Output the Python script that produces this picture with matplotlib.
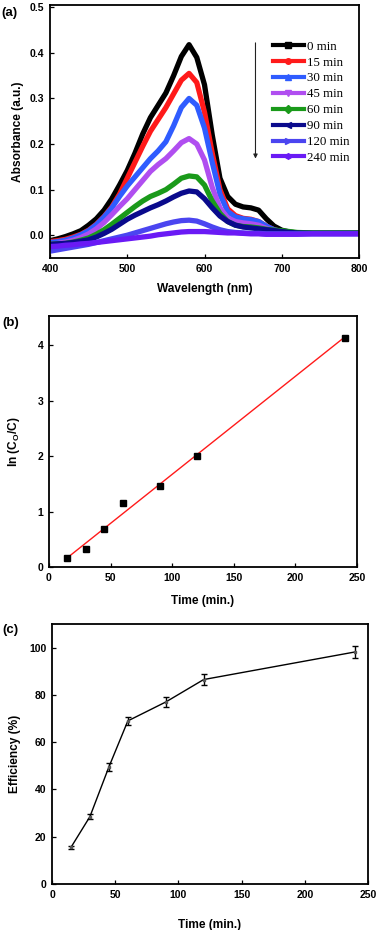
import numpy as np
import matplotlib
matplotlib.use('Agg')
import matplotlib.pyplot as plt
from matplotlib.lines import Line2D

plt.rcParams['font.family'] = 'Liberation Sans'
plt.rcParams['font.weight'] = 'bold'
plt.rcParams['axes.labelweight'] = 'bold'
plt.rcParams['mathtext.fontset'] = 'custom'
plt.rcParams['mathtext.rm'] = 'Liberation Sans:bold'
plt.rcParams['mathtext.bf'] = 'Liberation Sans:bold'

# ---- panel (a): UV-vis spectra ----
wavelength = [400, 410, 420, 430, 440, 450, 460, 470, 480, 490, 500, 510, 520, 530,
              540, 550, 560, 570, 580, 590, 600, 610, 620, 630, 640, 650, 660, 670,
              680, 690, 700, 710, 720, 740, 760, 780, 800]

abs_0 = [-0.012, -0.008, -0.003, 0.003, 0.010, 0.022, 0.036, 0.055, 0.080, 0.110, 0.142,
         0.180, 0.222, 0.258, 0.285, 0.312, 0.350, 0.392, 0.418, 0.390, 0.330, 0.220,
         0.125, 0.085, 0.068, 0.062, 0.060, 0.055, 0.036, 0.020, 0.011, 0.007, 0.005,
         0.005, 0.005, 0.005, 0.005]
abs_15 = [-0.014, -0.012, -0.009, -0.004, 0.002, 0.011, 0.024, 0.041, 0.062, 0.090, 0.125,
          0.160, 0.195, 0.228, 0.254, 0.280, 0.310, 0.340, 0.355, 0.335, 0.270, 0.180,
          0.100, 0.058, 0.043, 0.037, 0.035, 0.030, 0.020, 0.012, 0.008, 0.006, 0.005,
          0.005, 0.005, 0.005, 0.005]
abs_30 = [-0.016, -0.014, -0.011, -0.006, 0.001, 0.010, 0.023, 0.040, 0.060, 0.085, 0.108,
          0.128, 0.148, 0.168, 0.185, 0.205, 0.240, 0.280, 0.300, 0.285, 0.235, 0.160,
          0.090, 0.052, 0.040, 0.036, 0.034, 0.030, 0.020, 0.012, 0.008, 0.006, 0.005,
          0.005, 0.005, 0.005, 0.005]
abs_45 = [-0.020, -0.018, -0.015, -0.011, -0.005, 0.003, 0.014, 0.028, 0.045, 0.063, 0.080,
          0.100, 0.120, 0.140, 0.155, 0.168, 0.185, 0.203, 0.212, 0.200, 0.165, 0.105,
          0.060, 0.038, 0.030, 0.027, 0.025, 0.022, 0.015, 0.010, 0.007, 0.005, 0.004,
          0.004, 0.004, 0.004, 0.004]
abs_60 = [-0.020, -0.019, -0.018, -0.015, -0.011, -0.006, 0.002, 0.012, 0.024, 0.037, 0.050,
          0.063, 0.075, 0.085, 0.092, 0.100, 0.112, 0.125, 0.130, 0.128, 0.110, 0.075,
          0.048, 0.030, 0.022, 0.019, 0.018, 0.016, 0.013, 0.011, 0.010, 0.008, 0.006,
          0.005, 0.005, 0.005, 0.005]
abs_90 = [-0.020, -0.019, -0.018, -0.016, -0.013, -0.010, -0.004, 0.004, 0.013, 0.024, 0.035,
          0.044, 0.052, 0.060, 0.067, 0.075, 0.084, 0.092, 0.097, 0.095, 0.080, 0.060,
          0.042, 0.030, 0.022, 0.018, 0.016, 0.014, 0.012, 0.010, 0.008, 0.006, 0.005,
          0.004, 0.004, 0.004, 0.004]
abs_120 = [-0.035, -0.032, -0.029, -0.026, -0.023, -0.020, -0.016, -0.012, -0.008, -0.004, 0.000,
           0.005, 0.010, 0.015, 0.020, 0.025, 0.029, 0.032, 0.033, 0.031, 0.025, 0.018,
           0.012, 0.008, 0.006, 0.005, 0.004, 0.004, 0.003, 0.003, 0.003, 0.003, 0.003,
           0.003, 0.003, 0.003, 0.003]
abs_240 = [-0.025, -0.024, -0.022, -0.021, -0.019, -0.018, -0.016, -0.014, -0.012, -0.010, -0.008,
           -0.006, -0.004, -0.002, 0.001, 0.003, 0.005, 0.007, 0.008, 0.008, 0.008, 0.007,
           0.006, 0.005, 0.005, 0.004, 0.003, 0.003, 0.002, 0.002, 0.002, 0.002, 0.002,
           0.003, 0.003, 0.003, 0.003]

spectra = [abs_0, abs_15, abs_30, abs_45, abs_60, abs_90, abs_120, abs_240]
spectra_labels = ['0 min', '15 min', '30 min', '45 min', '60 min', '90 min', '120 min', '240 min']
spectra_colors = ['#000000', '#ff1a1a', '#2f5cff', '#b04ef0', '#1a9a1a', '#0a0a8c', '#4b45f0', '#6a1af5']
spectra_markers = ['s', 'o', '^', 'v', 'D', '<', '>', 'h']

# ---- panel (b): kinetics ----
time_b = [15, 30, 45, 60, 90, 120, 240]
ln_c0_c = [0.16, 0.33, 0.68, 1.16, 1.46, 2.01, 4.14]

# ---- panel (c): efficiency ----
time_c = [15, 30, 45, 60, 90, 120, 240]
efficiency = [15.5, 28.5, 49.5, 69.0, 77.0, 86.5, 98.2]
eff_err = [0.5, 1.0, 1.5, 1.6, 2.0, 2.2, 2.5]

W, H = 378, 930
fig = plt.figure(figsize=(W / 100, H / 100), dpi=100)


def axes_px(left, top, right, bottom):
    return fig.add_axes([left / W, 1 - bottom / H, (right - left) / W, (bottom - top) / H])


def style(ax):
    for sp in ax.spines.values():
        sp.set_linewidth(1.3)
    ax.tick_params(direction='in', length=3, width=0.9, labelsize=7.5, pad=4)
    for lab in ax.get_xticklabels() + ax.get_yticklabels():
        lab.set_fontweight('bold')


# panel (a)
ax1 = axes_px(50, 5, 359, 258)
for y, lab, c in zip(spectra, spectra_labels, spectra_colors):
    ax1.plot(wavelength, y, color=c, lw=3.8, solid_joinstyle='round', label=lab)
ax1.set_xlim(400, 800)
ax1.set_ylim(-0.05, 0.505)
ax1.set_xticks([400, 500, 600, 700, 800])
ax1.set_yticks([0.0, 0.1, 0.2, 0.3, 0.4, 0.5])
ax1.yaxis.set_major_formatter(matplotlib.ticker.FormatStrFormatter('%.1f'))
ax1.set_xlabel('Wavelength (nm)', fontsize=8.6, labelpad=7)
ax1.set_ylabel('Absorbance (a.u.)', fontsize=8.6, labelpad=4)
style(ax1)
handles = [Line2D([], [], color=c, lw=3, marker=m, markersize=4, markeredgecolor=c)
           for c, m in zip(spectra_colors, spectra_markers)]
ax1.legend(handles, spectra_labels, loc='upper left', bbox_to_anchor=(0.700, 0.885),
           frameon=False, borderpad=0, handlelength=2.4, handletextpad=0.25,
           labelspacing=0.3, prop={'family': 'Liberation Serif', 'size': 9.3, 'weight': 'normal'})
ax1.annotate('', xy=(666, 0.162), xytext=(666, 0.428),
             arrowprops=dict(arrowstyle='-|>', color='#222222', lw=0.8, mutation_scale=6))

# panel (b)
ax2 = axes_px(49, 316, 357, 567)
fit = np.polyfit(time_b, ln_c0_c, 1)
fit_x = np.array([time_b[0], time_b[-1]])
ax2.plot(fit_x, np.polyval(fit, fit_x), color='#ff1a1a', lw=1.0)
ax2.plot(time_b, ln_c0_c, 's', color='black', markersize=3.8)
ax2.set_xlim(0, 250)
ax2.set_ylim(0, 4.53)
ax2.set_xticks([0, 50, 100, 150, 200, 250])
ax2.set_yticks([0, 1, 2, 3, 4])
ax2.set_xlabel('Time (min.)', fontsize=8.6, labelpad=9)
ax2.set_ylabel(r'ln (C$_\mathbf{O}$/C)', fontsize=8.6, labelpad=11)
style(ax2)

# panel (c)
ax3 = axes_px(52, 624, 368, 884)
ax3.errorbar(time_c, efficiency, yerr=eff_err, color='black', lw=1.0, elinewidth=1.0,
             capsize=2.2, capthick=1.0, marker='s', markersize=2.0,
             markerfacecolor='#555555', markeredgecolor='#555555')
ax3.set_xlim(0, 250)
ax3.set_ylim(0, 110)
ax3.set_xticks([0, 50, 100, 150, 200, 250])
ax3.set_yticks([0, 20, 40, 60, 80, 100])
ax3.set_xlabel('Time (min.)', fontsize=8.6, labelpad=14)
ax3.set_ylabel('Efficiency (%)', fontsize=8.6, labelpad=6)
style(ax3)

fig.text(1 / W, 1 - 13 / H, '(a)', fontsize=9.5, fontweight='bold', va='center')
fig.text(2 / W, 1 - 323 / H, '(b)', fontsize=9.5, fontweight='bold', va='center')
fig.text(2 / W, 1 - 630 / H, '(c)', fontsize=9.5, fontweight='bold', va='center')

fig.savefig('out.png', dpi=100)
